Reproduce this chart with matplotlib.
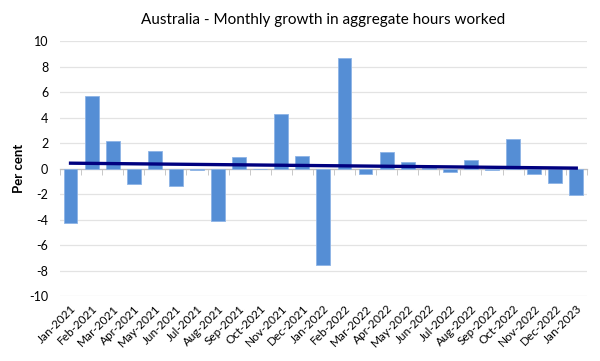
import numpy as np
import matplotlib
matplotlib.use("Agg")
import matplotlib.pyplot as plt

plt.rcParams["font.family"] = ["Lato", "DejaVu Sans"]

# monthly growth in aggregate hours worked, per cent
months = [
    "Jan-2021", "Feb-2021", "Mar-2021", "Apr-2021", "May-2021", "Jun-2021",
    "Jul-2021", "Aug-2021", "Sep-2021", "Oct-2021", "Nov-2021", "Dec-2021",
    "Jan-2022", "Feb-2022", "Mar-2022", "Apr-2022", "May-2022", "Jun-2022",
    "Jul-2022", "Aug-2022", "Sep-2022", "Oct-2022", "Nov-2022", "Dec-2022",
    "Jan-2023",
]
growth = [
    -4.3, 5.7, 2.2, -1.2, 1.4, -1.4,
    -0.1, -4.1, 0.9, -0.05, 4.3, 1.0,
    -7.6, 8.7, -0.4, 1.3, 0.5, 0.02,
    -0.3, 0.7, -0.15, 2.3, -0.45, -1.1,
    -2.1,
]
y_ticks = [10, 8, 6, 4, 2, 0, -2, -4, -6, -8, -10]

BAR = "#558ED5"
TREND = "#00007F"

x = np.arange(len(months))

fig = plt.figure(figsize=(6, 3.61), dpi=100)
ax = fig.add_axes([0.1, 0.18, 0.878, 0.706])

ax.bar(x, growth, width=0.66, color=BAR, edgecolor="#8DB4E6", linewidth=0.6, zorder=2)

# linear trend, as Excel draws it
slope, intercept = np.polyfit(x, growth, 1)
ax.plot(x, slope * x + intercept, color=TREND, linewidth=2.4, zorder=3)

ax.set_xlim(-0.5, len(months) - 0.5)
ax.set_ylim(-10, 10)
ax.set_yticks(y_ticks)
ax.set_yticklabels([str(v) for v in y_ticks], fontsize=9)
ax.tick_params(axis="y", length=0, pad=8.5)
ax.grid(axis="y", color="#E3E3E3", linewidth=0.9, zorder=0)
ax.set_axisbelow(True)

for s in ["top", "right", "left"]:
    ax.spines[s].set_visible(False)

# category axis sits on zero, ticks between categories
ax.spines["bottom"].set_position(("data", 0))
ax.spines["bottom"].set_color("#BFBFBF")
ax.spines["bottom"].set_linewidth(0.9)
ax.spines["bottom"].set_zorder(1)
ax.set_xticks(x)
ax.set_xticklabels([])
ax.tick_params(axis="x", which="major", length=0)
ax.set_xticks(np.arange(len(months) + 1) - 0.5, minor=True)
ax.tick_params(axis="x", which="minor", length=4, color="#BFBFBF", direction="out")

# labels at the bottom of the plot
sec = ax.secondary_xaxis(0.0)
sec.set_xticks(x)
sec.set_xticklabels(months, rotation=45, ha="right", rotation_mode="anchor", fontsize=8.5)
sec.tick_params(length=0, pad=5)
sec.spines["bottom"].set_visible(False)

ax.set_ylabel("Per cent", fontsize=9.5, fontweight="bold", labelpad=3)
ax.set_title("Australia - Monthly growth in aggregate hours worked", fontsize=11, pad=12)

fig.savefig("out.png", dpi=100)
